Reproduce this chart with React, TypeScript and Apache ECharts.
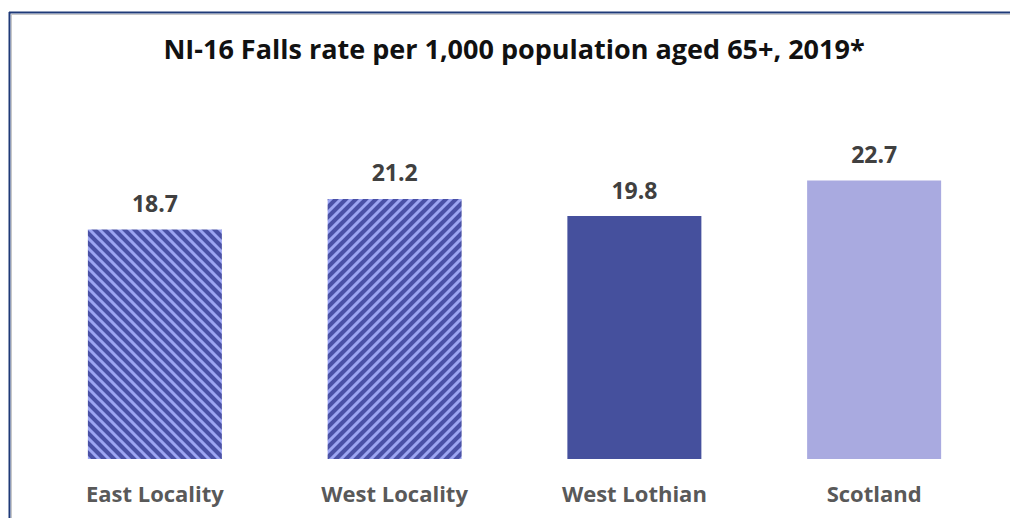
import React, { useEffect, useRef } from "react";
import * as echarts from "echarts";

const categories = ["East Locality", "West Locality", "West Lothian", "Scotland"];
const values = [18.7, 21.2, 19.8, 22.7];
const titleText = "NI-16 Falls rate per 1,000 population aged 65+, 2019*";

const DARK = "#4a51a6";
const LIGHT = "#9ca5f2";

function makeHatch(dir: number): string {
  const s = 20;
  const p = 10;
  const c = document.createElement("canvas");
  c.width = s;
  c.height = s;
  const ctx = c.getContext("2d") as CanvasRenderingContext2D;
  ctx.fillStyle = DARK;
  ctx.fillRect(0, 0, s, s);
  ctx.strokeStyle = LIGHT;
  ctx.lineWidth = 3;
  ctx.beginPath();
  if (dir > 0) {
    for (let k = -3 * p; k <= 3 * p; k += p) {
      ctx.moveTo(-4, -4 + k);
      ctx.lineTo(s + 4, s + 4 + k);
    }
  } else {
    for (let k = -p; k <= 5 * p; k += p) {
      ctx.moveTo(-4, k + 4);
      ctx.lineTo(s + 4, k - s - 4);
    }
  }
  ctx.stroke();
  return c.toDataURL();
}

export default function App() {
  const ref = useRef<HTMLDivElement>(null);
  useEffect(() => {
    if (!ref.current) return;
    const chart = echarts.init(ref.current, null, { renderer: "svg" });
    const hatchA = makeHatch(1);
    const hatchB = makeHatch(-1);
    const colors: any[] = [
      { image: hatchA, repeat: "repeat", imageWidth: 20, imageHeight: 20 },
      { image: hatchB, repeat: "repeat", imageWidth: 20, imageHeight: 20 },
      "#45509d",
      "#a9aae0",
    ];
    const font = "'Open Sans', 'Noto Sans', sans-serif";
    chart.setOption({
      animation: false,
      backgroundColor: "#ffffff",
      title: {
        text: titleText,
        left: 509,
        textAlign: "center",
        top: 30,
        textStyle: { fontFamily: font, fontWeight: "bold", fontSize: 27, color: "#111111" },
      },
      grid: { left: 35, right: 16, top: 152.25, bottom: 59, containLabel: false },
      xAxis: {
        type: "category",
        data: categories,
        axisLine: { show: false },
        axisTick: { show: false },
        axisLabel: {
          margin: 23,
          fontFamily: font,
          fontWeight: "bold",
          fontSize: 22,
          color: "#595959",
        },
      },
      yAxis: {
        type: "value",
        min: 0,
        max: 25,
        show: false,
        splitLine: { show: false },
      },
      series: [
        {
          type: "bar",
          barWidth: 134,
          data: values.map((v, i) => ({ value: v, itemStyle: { color: colors[i] } })),
          label: {
            show: true,
            position: "top",
            distance: 15,
            fontFamily: font,
            fontWeight: "bold",
            fontSize: 23,
            color: "#404040",
          },
        },
      ],
      graphic: [
        { type: "line", shape: { x1: 9, y1: 12.5, x2: 1010, y2: 12.5 }, style: { stroke: "#1f3a78", lineWidth: 2 } },
        { type: "line", shape: { x1: 11, y1: 14.5, x2: 1010, y2: 14.5 }, style: { stroke: "#c8c8c8", lineWidth: 1 } },
        { type: "line", shape: { x1: 9.5, y1: 12, x2: 9.5, y2: 518 }, style: { stroke: "#1f3a78", lineWidth: 2 } },
        { type: "line", shape: { x1: 11.5, y1: 14, x2: 11.5, y2: 518 }, style: { stroke: "#c8c8c8", lineWidth: 1 } },
      ],
    });
    return () => chart.dispose();
  }, []);
  return (
    <div
      ref={ref}
      style={{ position: "fixed", left: 0, top: 0, width: 1010, height: 518, background: "#fff" }}
    />
  );
}
